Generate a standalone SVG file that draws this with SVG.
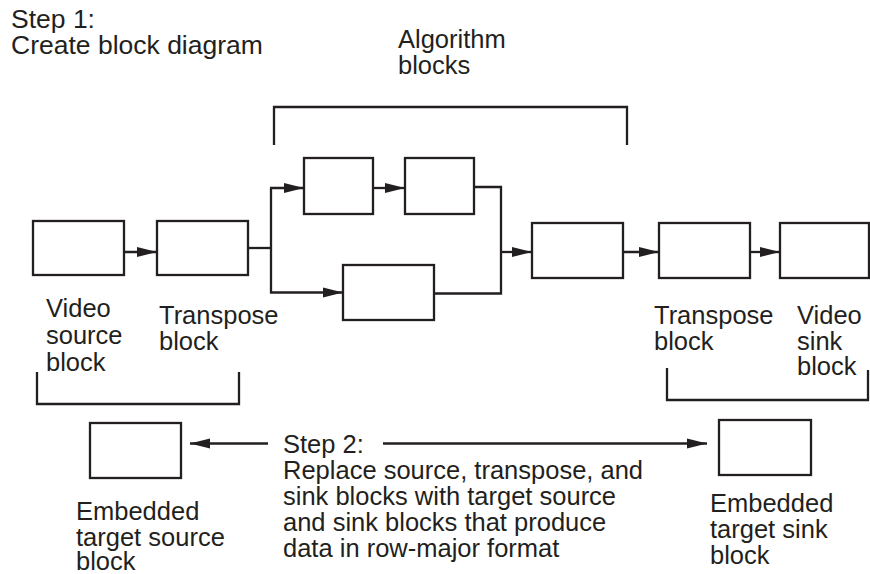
<svg xmlns="http://www.w3.org/2000/svg" width="870" height="574" viewBox="0 0 870 574">
<defs>
<style>
.box{fill:#fff;stroke:#231f20;stroke-width:2.3}
.ln{fill:none;stroke:#231f20;stroke-width:2.3}
.arr{fill:none;stroke:#231f20;stroke-width:2.3;marker-end:url(#ah)}
text{font-family:"Liberation Sans",Arial,sans-serif;font-size:25.5px;fill:#231f20}
.big{font-size:26.5px}
</style>
<marker id="ah" markerUnits="userSpaceOnUse" markerWidth="22" markerHeight="12" refX="20" refY="5.5" orient="auto">
<path d="M0,0.5 L20,5.5 L0,10.5 Z" fill="#231f20"/>
</marker>
</defs>
<rect width="870" height="574" fill="#fff"/>
<g id="step1-label"><text class="big" x="11" y="28">Step 1:</text><text class="big" x="11" y="54">Create block diagram</text></g>
<g id="algorithm-label"><text x="398" y="48">Algorithm</text><text x="398" y="74">blocks</text></g>
<g id="brackets">
<path class="ln" d="M274,145 V107 H627 V145"/>
<path class="ln" d="M37,372 V404 H239 V372"/>
<path class="ln" d="M667,368 V400 H868 V370"/>
</g>
<g id="video-source"><rect class="box" x="33" y="221" width="91" height="54"/><text x="46" y="317">Video</text><text x="46" y="344">source</text><text x="46" y="371">block</text></g>
<g id="transpose-in"><rect class="box" x="157" y="221" width="91" height="54"/><text x="159" y="324">Transpose</text><text x="159" y="350">block</text></g>
<g id="algo-1"><rect class="box" x="304" y="158" width="69" height="56"/></g>
<g id="algo-2"><rect class="box" x="405" y="158" width="69" height="56"/></g>
<g id="algo-3"><rect class="box" x="343" y="265" width="91" height="55"/></g>
<g id="algo-4"><rect class="box" x="532" y="223" width="91" height="55"/></g>
<g id="transpose-out"><rect class="box" x="659" y="223" width="91" height="55"/><text x="654" y="324">Transpose</text><text x="654" y="350">block</text></g>
<g id="video-sink"><rect class="box" x="780" y="223" width="89" height="55"/><text x="797" y="324">Video</text><text x="797" y="350">sink</text><text x="797" y="375">block</text></g>
<g id="embedded-source"><rect class="box" x="90" y="423" width="91" height="55"/><text x="76" y="520">Embedded</text><text x="76" y="546">target source</text><text x="76" y="570">block</text></g>
<g id="embedded-sink"><rect class="box" x="719" y="420" width="92" height="55"/><text x="710" y="512">Embedded</text><text x="710" y="538">target sink</text><text x="710" y="564">block</text></g>
<g id="step2-label"><text x="283" y="453">Step 2:</text><text x="283" y="479">Replace source, transpose, and</text><text x="283" y="505">sink blocks with target source</text><text x="283" y="531">and sink blocks that produce</text><text x="283" y="557">data in row-major format</text></g>
<g id="connectors">
<line class="arr" x1="124" y1="252" x2="157" y2="252"/>
<polyline class="ln" points="248,248 271,248"/>
<line class="ln" x1="271" y1="188" x2="271" y2="293"/>
<line class="arr" x1="270" y1="188" x2="304" y2="188"/>
<line class="arr" x1="270" y1="292.5" x2="343" y2="292.5"/>
<line class="arr" x1="373" y1="188" x2="405" y2="188"/>
<polyline class="ln" points="474,187 501,187 501,293.5 434,293.5"/>
<line class="arr" x1="501" y1="252" x2="532" y2="252"/>
<line class="arr" x1="623" y1="252" x2="659" y2="252"/>
<line class="arr" x1="750" y1="252" x2="780" y2="252"/>
<line class="arr" x1="268" y1="443.5" x2="190" y2="443.5"/>
<line class="arr" x1="383" y1="443.5" x2="707" y2="443.5"/>
</g>
</svg>
